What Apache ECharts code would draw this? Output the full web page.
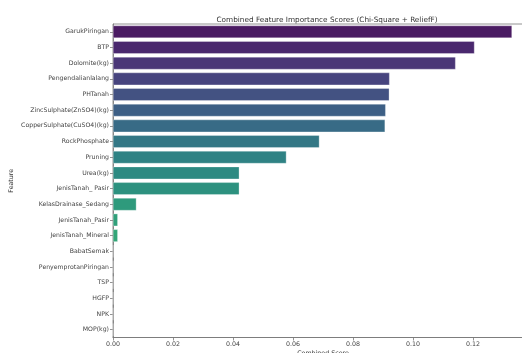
<!DOCTYPE html>
<html>
<head>
<meta charset="utf-8">
<script src="https://cdn.jsdelivr.net/npm/echarts@6/dist/echarts.min.js"></script>
<style>
  html, body { margin: 0; padding: 0; background: #fff; }
  #chart { width: 522px; height: 353px; }
</style>
</head>
<body>
<div id="chart"></div>
<script>
// Feature names, ordered from highest to lowest combined score
const features = [
  'GarukPiringan', 'BTP', 'Dolomite(kg)', 'Pengendalianlalang', 'PHTanah',
  'ZincSulphate(ZnSO4)(kg)', 'CopperSulphate(CuSO4)(kg)', 'RockPhosphate', 'Pruning',
  'Urea(kg)', 'JenisTanah_ Pasir', 'KelasDrainase_Sedang', 'JenisTanah_Pasir',
  'JenisTanah_Mineral', 'BabatSemak', 'PenyemprotanPiringan', 'TSP', 'HGFP', 'NPK', 'MOP(kg)'
];
// Combined score (Chi-Square + ReliefF) per feature
const scores = [
  0.1330, 0.1205, 0.1142, 0.0922, 0.0921,
  0.0909, 0.0907, 0.0688, 0.0578,
  0.0421, 0.0421, 0.0078, 0.0016,
  0.0016, 0, 0, 0, 0, 0, 0
];
// Viridis-style palette, one shade per bar
const palette = [
  '#4a1b62', '#4a286e', '#4a3677', '#47447e', '#435282',
  '#3d5f85', '#386b86', '#337785', '#2f8284',
  '#2d8a82', '#2d917f', '#2e9a7c', '#30a07a',
  '#33a678', '#3aae73', '#46b66d', '#58be64', '#6cc558', '#84cc4a', '#9dd23c'
];
const xTicks = { min: 0, max: 0.14, step: 0.02 };

const FONT = 'DejaVu Sans';
const chart = echarts.init(document.getElementById('chart'), null, { renderer: 'canvas' });
chart.setOption({
  animation: false,
  backgroundColor: '#ffffff',
  title: {
    text: 'Combined Feature Importance Scores (Chi-Square + ReliefF)',
    left: 322, top: 12, textAlign: 'center',
    textStyle: { fontFamily: FONT, fontSize: 7.3, fontWeight: 'normal', color: '#333' }
  },
  grid: {
    left: 113, width: 420, top: 24, height: 313.5,
    outerBoundsMode: 'none', containLabel: false,
    show: true, borderColor: '#777', borderWidth: 0.8, backgroundColor: 'transparent'
  },
  xAxis: {
    type: 'value', min: xTicks.min, max: xTicks.max, interval: xTicks.step,
    name: 'Combined Score', nameLocation: 'middle', nameGap: 12.5, nameMoveOverlap: false,
    nameTextStyle: { fontFamily: FONT, fontSize: 6.3, color: '#333' },
    axisLine: { show: true, lineStyle: { color: '#777', width: 0.8 } },
    axisTick: { show: true, length: 3, lineStyle: { color: '#777', width: 0.8 } },
    axisLabel: {
      fontFamily: FONT, fontSize: 6.3, color: '#444', margin: 4,
      formatter: v => v.toFixed(2)
    },
    splitLine: { show: false }
  },
  yAxis: {
    type: 'category', data: features, inverse: true,
    name: 'Feature', nameLocation: 'middle', nameGap: 99, nameRotate: 90, nameMoveOverlap: false,
    nameTextStyle: { fontFamily: FONT, fontSize: 6.3, color: '#333' },
    axisLine: { show: true, lineStyle: { color: '#777', width: 0.8 } },
    axisTick: { show: true, alignWithLabel: true, length: 3, lineStyle: { color: '#777', width: 0.8 } },
    axisLabel: { fontFamily: FONT, fontSize: 6.2, color: '#444', margin: 4 }
  },
  series: [{
    type: 'bar',
    data: scores.map((v, i) => ({ value: v, itemStyle: { color: palette[i] } })),
    barCategoryGap: '20%',
    itemStyle: { borderColor: 'rgba(255,255,255,0.6)', borderWidth: 0.5 }
  }]
});
</script>
</body>
</html>
